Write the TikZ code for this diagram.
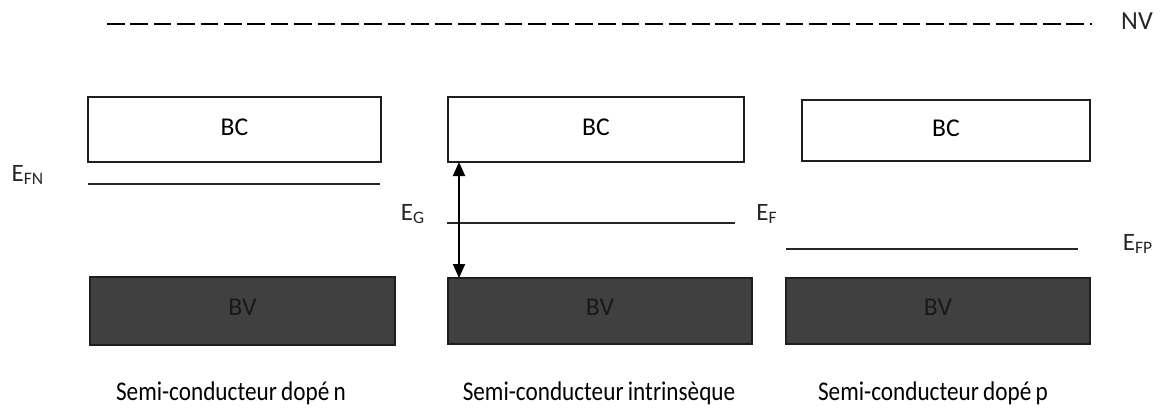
\documentclass[tikz,border=0pt]{standalone}
\usepackage{fontspec}
\setmainfont{Carlito}
\newfontfamily\capfont[FakeStretch=0.86]{Carlito}
\newcommand\mycapstyle{\capfont\fontsize{13.5}{15}\selectfont\spaceskip=0.16em\relax}
\usetikzlibrary{arrows.meta}
\definecolor{bvfill}{HTML}{404040}
\definecolor{edge}{HTML}{1E1E1E}
\begin{document}
\begin{tikzpicture}[x=0.5pt,y=-0.5pt,
  bcbox/.style={draw=edge,line width=1.1pt,fill=white},
  bvbox/.style={draw=edge,line width=1.1pt,fill=bvfill},
  boxtext/.style={font=\fontsize{12.8}{14}\selectfont,text=black},
  bvtext/.style={font=\fontsize{12.8}{14}\selectfont,text=black!90},
  level/.style={draw=black!85,line width=1pt},
  elabel/.style={font=\fontsize{12.5}{14}\selectfont,text=black!85,inner sep=0pt},
  caption/.style={font=\mycapstyle,inner sep=0pt}]
\useasboundingbox (0,0) rectangle (1161,414);
% vacuum level
\coordinate (nvA) at (107,24);
\coordinate (nvB) at (1092,24);
\draw[line width=1pt,dash pattern=on 8.8pt off 2.9pt] (nvA) -- (nvB);
\node[elabel,font=\fontsize{13}{14}\selectfont] (nv) at (1137,21) {NV};
% conduction bands
\draw[bcbox] (88,97) rectangle (381,162);
\node[boxtext] (bc1) at (234.5,127) {BC};
\draw[bcbox] (448,97) rectangle (744,162);
\node[boxtext] (bc2) at (596,127) {BC};
\draw[bcbox] (802,100) rectangle (1090,161);
\node[boxtext] (bc3) at (946,128) {BC};
% valence bands
\draw[bvbox] (90,277) rectangle (395,345);
\node[bvtext] (bv1) at (242.5,307) {BV};
\draw[bvbox] (448,278) rectangle (752,344);
\node[bvtext] (bv2) at (600,307) {BV};
\draw[bvbox] (786,278) rectangle (1090,344);
\node[bvtext] (bv3) at (938,307) {BV};
% Fermi levels
\coordinate (fn1) at (88,184);
\coordinate (fn2) at (380,184);
\draw[level] (fn1) -- (fn2);
\node[elabel] (efn) at (28,175) {E\textsubscript{FN}};
\coordinate (fi1) at (447,223);
\coordinate (fi2) at (735,223);
\draw[level] (fi1) -- (fi2);
\node[elabel] (ef) at (767,214) {E\textsubscript{F}};
\coordinate (fp1) at (786,249);
\coordinate (fp2) at (1078,249);
\draw[level] (fp1) -- (fp2);
\node[elabel] (efp) at (1138,244) {E\textsubscript{FP}};
% gap arrow
\coordinate (gTop) at (459,162);
\coordinate (gBot) at (459,278);
\draw[line width=1pt,{Triangle[length=7pt,width=6pt]}-{Triangle[length=7pt,width=6pt]}] (gTop) -- (gBot);
\node[elabel] (eg) at (413,214) {E\textsubscript{G}};
% captions
\node[caption] (c1) at (231,393) {Semi-conducteur dopé n};
\node[caption] (c2) at (599,393) {Semi-conducteur intrinsèque};
\node[caption] (c3) at (933,393) {Semi-conducteur dopé p};
\end{tikzpicture}
\end{document}
